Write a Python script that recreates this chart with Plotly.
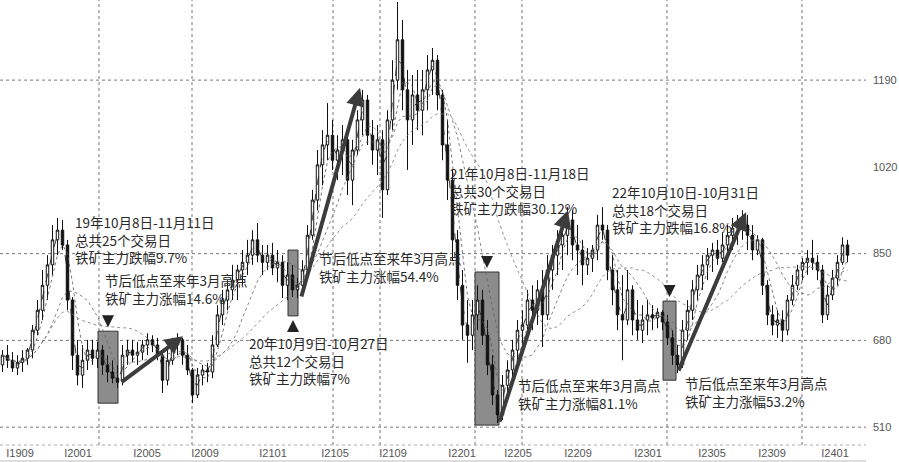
import plotly.graph_objects as go
import pandas as pd

# ---- price data (approx. weekly-aggregated bars) ----
opens = [632,651,641,626,637,645,661,700,739,788,
         828,877,896,867,759,651,612,641,661,645,
         661,632,618,606,602,651,661,651,657,671,
         681,671,651,602,641,671,681,651,622,573,
         612,622,618,671,730,759,779,798,818,833,
         847,877,847,833,847,822,833,788,808,779,
         788,818,886,955,1024,1063,1082,1033,1053,1073,
         994,1053,1112,1151,1082,1053,1073,975,1112,1190,
         1269,1171,1112,1161,1131,1171,1210,1229,1161,1063,
         994,877,788,710,690,730,759,690,632,573,
         534,592,622,661,700,710,759,739,779,730,
         818,847,867,886,916,867,857,828,841,857,
         906,896,818,779,730,720,779,720,700,720,
         730,724,735,716,685,651,632,700,739,779,
         808,828,847,857,841,867,886,900,912,906,
         886,857,877,788,730,710,720,700,759,788,
         818,833,841,833,818,730,769,802,833,867]
highs = [661,671,657,651,661,665,710,759,818,847,
         906,920,916,877,765,681,671,681,681,677,
         671,651,641,632,671,681,681,677,681,694,
         690,685,655,661,685,694,685,671,626,626,
         632,636,690,749,779,798,828,828,857,877,
         896,910,867,867,871,857,847,833,828,802,
         837,906,975,1053,1092,1145,1112,1082,1102,1092,
         1073,1131,1171,1161,1112,1102,1092,1131,1229,1343,
         1308,1210,1200,1210,1210,1239,1253,1239,1171,1112,
         1014,896,818,759,759,788,779,720,651,583,
         612,641,681,720,739,779,788,798,818,847,
         867,896,906,941,935,906,877,861,867,926,
         941,906,847,818,808,818,788,759,749,759,
         749,743,739,730,700,671,720,759,798,828,
         847,861,871,877,892,906,920,926,935,926,
         906,886,881,798,749,739,739,769,808,828,
         841,857,877,847,828,788,818,847,882,877]
lows = [618,626,618,612,618,632,645,690,720,759,
        808,847,857,739,622,592,587,622,632,626,
        612,598,596,587,592,632,637,632,641,651,
        657,641,577,592,632,651,632,612,557,567,
        592,598,606,667,710,739,759,759,788,808,
        828,833,808,818,808,794,763,759,765,763,
        779,808,877,935,984,1033,1014,994,1004,965,
        945,1043,1082,1063,1024,1004,920,965,1092,1171,
        1131,1014,1063,1092,1082,1131,1161,1131,1033,955,
        837,759,681,636,661,700,671,612,553,518,
        524,573,602,632,661,681,700,710,667,720,
        779,808,818,847,837,808,788,808,814,837,
        877,798,749,700,641,710,690,681,675,690,
        700,704,700,671,632,616,626,681,720,759,
        779,798,814,828,833,841,857,867,877,857,
        837,847,769,710,690,685,677,690,749,779,
        798,808,818,798,714,720,759,788,828,833]
closes = [651,641,626,637,645,661,700,739,788,828,
          877,896,867,759,651,612,641,661,645,661,
          632,618,606,598,651,661,651,657,671,681,
          671,651,602,641,671,681,651,622,573,612,
          622,618,671,730,759,779,798,818,833,847,
          877,847,833,847,822,833,788,808,779,788,
          818,886,955,1024,1063,1082,1033,1053,1073,994,
          1053,1112,1151,1082,1053,1073,975,1112,1190,1269,
          1171,1112,1161,1131,1171,1210,1229,1161,1063,994,
          877,788,710,690,730,759,690,632,573,534,
          592,622,661,700,710,759,739,779,730,818,
          847,867,886,916,867,857,828,841,857,906,
          896,818,779,730,720,779,720,700,720,730,
          724,735,716,685,651,632,700,739,779,808,
          828,847,857,841,867,886,900,912,906,886,
          857,877,788,730,710,720,700,759,788,818,
          833,841,833,818,730,769,802,833,867,847]

# axis ticks
price_ticks = [510, 680, 850, 1020, 1190]
grid_prices = [510, 680, 850, 1190]
contract_labels = ["I1909", "I2001", "I2005", "I2009", "I2101", "I2105", "I2109",
                   "I2201", "I2205", "I2209", "I2301", "I2305", "I2309", "I2401"]
contract_pos = [3.5, 15.1, 28.9, 40.5, 54.1, 66.5, 78.1,
                91.9, 103.1, 115.1, 129.1, 141.9, 153.9, 166.5]
vgrid_pos = [19.3, 37.9, 66.1, 75.5, 94.5, 103.9, 132.9, 159.9]

# holiday windows (bar index start/end, price bottom/top)
box_x0 = [19.1, 57.1, 94.5, 132.1]
box_x1 = [23.1, 59.1, 99.3, 134.7]
box_lo = [557, 728, 514, 602]
box_hi = [698, 857, 814, 757]
box_mark_dir = ["down", "up", "down", "down"]

# post-holiday-low -> March-high arrows (start idx, start price, end idx, end price)
arr_x0 = [23.5, 59.7, 99.3, 135.1]
arr_y0 = [596, 763, 518, 618]
arr_x1 = [36.1, 71.5, 113.1, 148.7]
arr_y1 = [688, 1175, 935, 931]

texts = [
    "19年10月8日-11月11日<br>总共25个交易日<br>铁矿主力跌幅9.7%",
    "节后低点至来年3月高点<br>铁矿主力涨幅14.6%",
    "20年10月9日-10月27日<br>总共12个交易日<br>铁矿主力跌幅7%",
    "节后低点至来年3月高点<br>铁矿主力涨幅54.4%",
    "21年10月8日-11月18日<br>总共30个交易日<br>铁矿主力跌幅30.12%",
    "22年10月10日-10月31日<br>总共18个交易日<br>铁矿主力跌幅16.8%",
    "节后低点至来年3月高点<br>铁矿主力涨幅81.1%",
    "节后低点至来年3月高点<br>铁矿主力涨幅53.2%",
]
text_px = [(73, 210), (103, 268), (247, 331), (317, 246),
           (448, 161), (610, 180), (516, 373), (683, 371)]

W, H = 899, 462
ML, MR, MT, MB = 0, 33, 0, 17
PW, PH = W - ML - MR, H - MT - MB

idx = list(range(len(closes)))
s = pd.Series(closes, dtype=float)
ma_specs = [(2, "dash", 0.9, "#222"), (4, "dot", 0.8, "#555"),
            (10, "dot", 0.8, "#666"), (20, "dot", 0.8, "#777")]

fig = go.Figure()
for w, dash, lw, col in ma_specs:
    fig.add_trace(go.Scatter(x=idx, y=s.rolling(w, min_periods=1).mean(), mode="lines",
                             line=dict(color=col, width=lw, dash=dash), hoverinfo="skip",
                             showlegend=False))
fig.add_trace(go.Candlestick(
    x=idx, open=opens, high=highs, low=lows, close=closes,
    increasing=dict(line=dict(color="#111", width=1), fillcolor="#ffffff"),
    decreasing=dict(line=dict(color="#111", width=1), fillcolor="#111111"),
    whiskerwidth=0, showlegend=False))

shapes = []
for gp in grid_prices:
    shapes.append(dict(type="line", xref="paper", x0=0, x1=1, yref="y", y0=gp, y1=gp,
                       line=dict(color="#777", width=1, dash="dot"), layer="below"))
for vx in vgrid_pos:
    shapes.append(dict(type="line", xref="x", x0=vx, x1=vx, yref="paper", y0=0, y1=1,
                       line=dict(color="#777", width=1, dash="dot"), layer="below"))
shapes.append(dict(type="line", xref="paper", x0=0, x1=1, yref="paper", y0=0, y1=0,
                   line=dict(color="#aaa", width=1, dash="dot")))
shapes.append(dict(type="line", xref="paper", x0=0, x1=1, yref="paper",
                   y0=-16 / PH, y1=-16 / PH, line=dict(color="#bbb", width=1)))
for x0, x1, lo, hi in zip(box_x0, box_x1, box_lo, box_hi):
    shapes.append(dict(type="rect", xref="x", yref="y", x0=x0, x1=x1, y0=lo, y1=hi,
                       fillcolor="#8c8c8c", line=dict(color="#333", width=1), layer="below"))

annotations = []
for x0, y0, x1, y1 in zip(arr_x0, arr_y0, arr_x1, arr_y1):
    annotations.append(dict(x=x1, y=y1, ax=x0, ay=y0, xref="x", yref="y", axref="x", ayref="y",
                            showarrow=True, arrowhead=2, arrowsize=0.9, arrowwidth=4,
                            arrowcolor="#3c3c3c", text=""))
for x0, x1, lo, hi, d in zip(box_x0, box_x1, box_lo, box_hi, box_mark_dir):
    xm = (x0 + x1) / 2
    if d == "down":
        annotations.append(dict(x=xm, y=hi, xref="x", yref="y", ax=0, ay=-12, yshift=4,
                                showarrow=True, arrowhead=2, arrowsize=1.2, arrowwidth=2,
                                arrowcolor="#222", text=""))
    else:
        annotations.append(dict(x=xm, y=lo, xref="x", yref="y", ax=0, ay=12, yshift=-4,
                                showarrow=True, arrowhead=2, arrowsize=1.2, arrowwidth=2,
                                arrowcolor="#222", text=""))
for t, (px, py) in zip(texts, text_px):
    annotations.append(dict(x=px / PW, y=1 - py / PH, xref="paper", yref="paper",
                            xanchor="left", yanchor="top", align="left", showarrow=False,
                            text=t, font=dict(family="Noto Sans CJK SC", size=13.5, color="#2a2a2a")))

fig.update_layout(
    width=W, height=H, margin=dict(l=ML, r=MR, t=MT, b=MB),
    paper_bgcolor="white", plot_bgcolor="white",
    shapes=shapes, annotations=annotations, showlegend=False,
    xaxis=dict(range=[-0.5, (PW - 2.5) / 5], tickvals=contract_pos, ticktext=contract_labels,
               showgrid=False, zeroline=False, showline=False, ticks="",
               tickfont=dict(family="Liberation Sans", size=11, color="#555"),
               rangeslider=dict(visible=False), fixedrange=True),
    yaxis=dict(range=[475, 1347], side="right", tickvals=price_ticks,
               showgrid=False, zeroline=False, showline=False, ticks="",
               ticklabelstandoff=6,
               tickfont=dict(family="Liberation Sans", size=11, color="#555")),
)
fig.write_html("out.html", config={"displayModeBar": False},
               post_script="document.body.style.margin='0';")
